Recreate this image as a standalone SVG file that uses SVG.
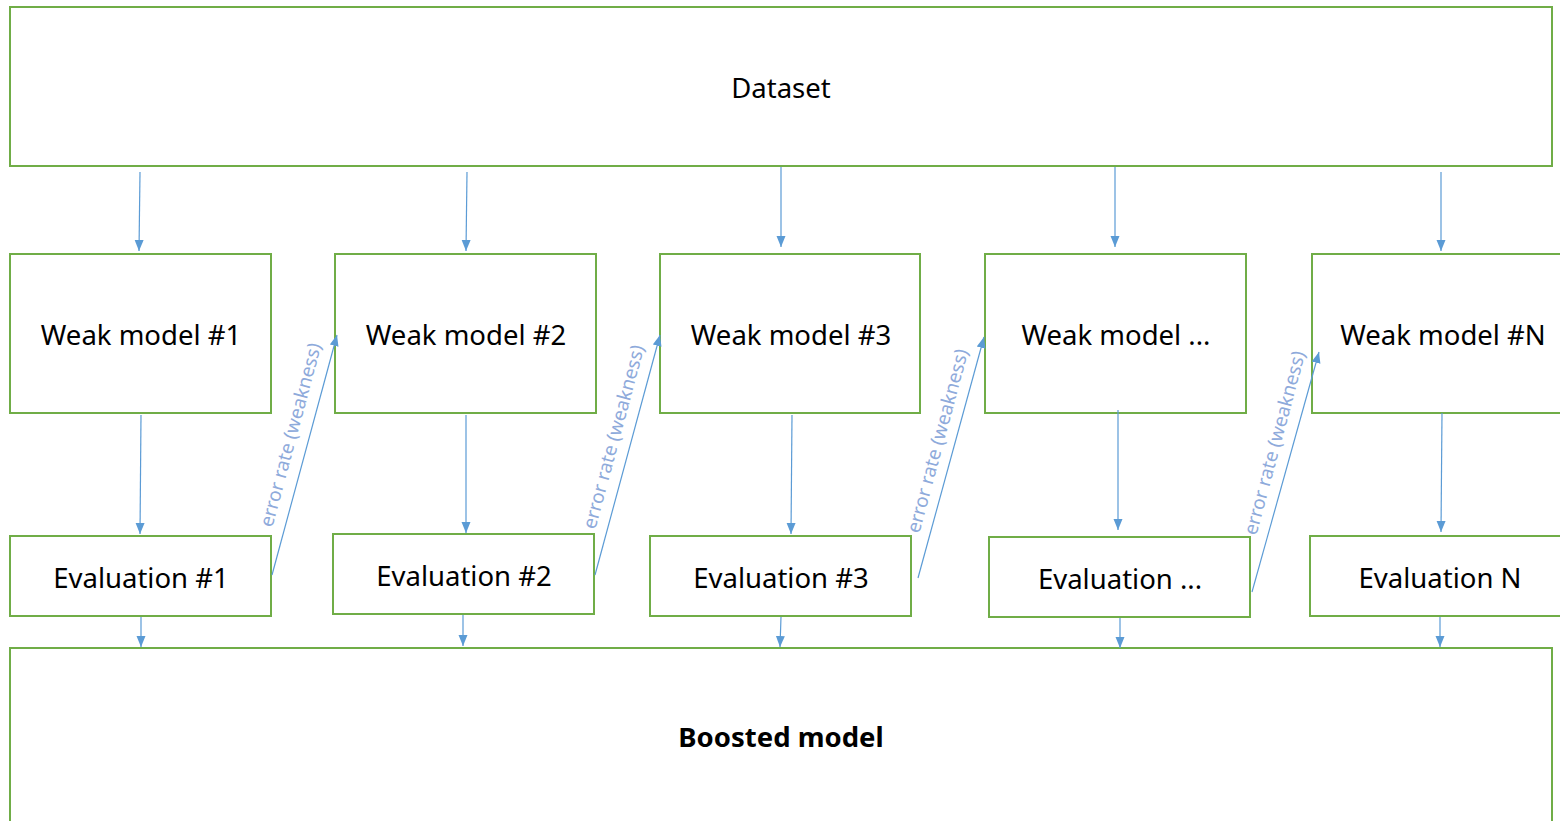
<svg xmlns="http://www.w3.org/2000/svg" width="1560" height="821" viewBox="0 0 1560 821">
<style>
.box{fill:#fff;stroke:#70ad47;stroke-width:2}
.t{font-family:"Noto Sans","Open Sans",sans-serif;font-size:27.5px;fill:#000;text-anchor:middle}
.b{font-weight:bold}
.c{stroke:#5b9bd5;stroke-width:1.2;fill:none;marker-end:url(#ah)}
.lbl{font-family:"Noto Sans","Open Sans",sans-serif;font-size:19px;fill:#8eaadb;text-anchor:middle}
</style>
<defs>
<marker id="ah" markerUnits="userSpaceOnUse" markerWidth="12" markerHeight="10" refX="11" refY="5" orient="auto">
<path d="M0,0.5 L11,5 L0,9.5 Z" fill="#5b9bd5"/>
</marker>
</defs>
<rect width="1560" height="821" fill="#fff"/>
<g id="dataset"><rect class="box" x="10" y="7" width="1542" height="159"/><text class="t" x="781" y="98">Dataset</text></g>
<g id="wm1"><rect class="box" x="10" y="254" width="261" height="159"/><text class="t" x="141" y="345">Weak model #1</text></g>
<g id="wm2"><rect class="box" x="335" y="254" width="261" height="159"/><text class="t" x="466" y="345">Weak model #2</text></g>
<g id="wm3"><rect class="box" x="660" y="254" width="260" height="159"/><text class="t" x="791" y="345">Weak model #3</text></g>
<g id="wm4"><rect class="box" x="985" y="254" width="261" height="159"/><text class="t" x="1116" y="345">Weak model ...</text></g>
<g id="wmN"><rect class="box" x="1312" y="254" width="260" height="159"/><text class="t" x="1443" y="345">Weak model #N</text></g>
<g id="ev1"><rect class="box" x="10" y="536" width="261" height="80"/><text class="t" x="141" y="588">Evaluation #1</text></g>
<g id="ev2"><rect class="box" x="333" y="534" width="261" height="80"/><text class="t" x="464" y="586">Evaluation #2</text></g>
<g id="ev3"><rect class="box" x="650" y="536" width="261" height="80"/><text class="t" x="781" y="588">Evaluation #3</text></g>
<g id="ev4"><rect class="box" x="989" y="537" width="261" height="80"/><text class="t" x="1120" y="589">Evaluation ...</text></g>
<g id="evN"><rect class="box" x="1310" y="536" width="262" height="80"/><text class="t" x="1440" y="588">Evaluation N</text></g>
<g id="boosted"><rect class="box" x="10" y="648" width="1542" height="190"/><text class="t b" x="781" y="747">Boosted model</text></g>
<g id="connectors">
<line class="c" x1="140" y1="172" x2="139" y2="251"/>
<line class="c" x1="467" y1="172" x2="466" y2="251"/>
<line class="c" x1="781" y1="167" x2="781" y2="247"/>
<line class="c" x1="1115" y1="167" x2="1115" y2="247"/>
<line class="c" x1="1441" y1="172" x2="1441" y2="251"/>
<line class="c" x1="141" y1="415" x2="140" y2="534"/>
<line class="c" x1="466" y1="415" x2="466" y2="533"/>
<line class="c" x1="792" y1="415" x2="791" y2="534"/>
<line class="c" x1="1118" y1="410" x2="1118" y2="530"/>
<line class="c" x1="1442" y1="413" x2="1441" y2="532"/>
<line class="c" x1="141" y1="617" x2="141" y2="647"/>
<line class="c" x1="463" y1="615" x2="463" y2="646"/>
<line class="c" x1="781" y1="617" x2="780" y2="647"/>
<line class="c" x1="1120" y1="618" x2="1120" y2="648"/>
<line class="c" x1="1440" y1="617" x2="1440" y2="647"/>
<line class="c" x1="272" y1="575" x2="337" y2="335"/>
<line class="c" x1="595" y1="575" x2="660" y2="335"/>
<line class="c" x1="918" y1="578" x2="984" y2="337"/>
<line class="c" x1="1252" y1="592" x2="1319" y2="352"/>
<text class="lbl" transform="translate(291,435) rotate(-75)" dy="6">error rate (weakness)</text>
<text class="lbl" transform="translate(614,437) rotate(-75)" dy="6">error rate (weakness)</text>
<text class="lbl" transform="translate(938,441) rotate(-75)" dy="6">error rate (weakness)</text>
<text class="lbl" transform="translate(1275,443) rotate(-75)" dy="6">error rate (weakness)</text>
</g>
</svg>
